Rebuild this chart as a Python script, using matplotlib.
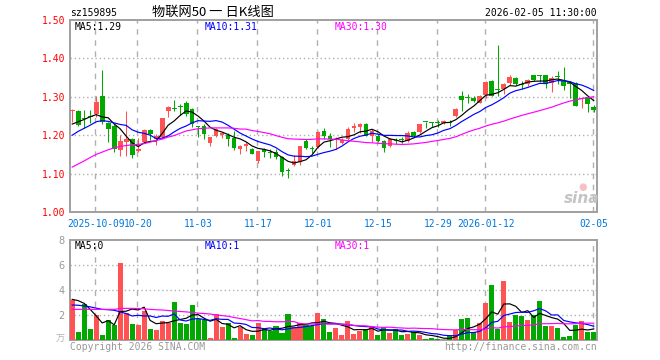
import numpy as np
import pandas as pd
import matplotlib
matplotlib.use("Agg")
from matplotlib import pyplot as plt

# daily K-line, 88 trading days
opens = [1.263, 1.264, 1.245, 1.250, 1.254, 1.302, 1.232, 1.223, 1.161, 1.182,
         1.191, 1.159, 1.183, 1.214, 1.190, 1.196, 1.262, 1.270, 1.276, 1.285,
         1.267, 1.224, 1.225, 1.180, 1.197, 1.200, 1.201, 1.193, 1.163, 1.173,
         1.163, 1.132, 1.163, 1.155, 1.156, 1.143, 1.108, 1.123, 1.129, 1.184,
         1.167, 1.170, 1.210, 1.199, 1.188, 1.180, 1.190, 1.219, 1.222, 1.230,
         1.197, 1.199, 1.186, 1.173, 1.186, 1.189, 1.184, 1.209, 1.208, 1.235,
         1.234, 1.233, 1.232, 1.235, 1.251, 1.303, 1.299, 1.298, 1.285, 1.304,
         1.342, 1.320, 1.320, 1.336, 1.350, 1.331, 1.333, 1.357, 1.356, 1.357,
         1.337, 1.353, 1.341, 1.338, 1.336, 1.293, 1.300, 1.273]
closes = [1.265, 1.226, 1.243, 1.248, 1.286, 1.235, 1.215, 1.163, 1.184, 1.191,
          1.148, 1.165, 1.213, 1.202, 1.197, 1.244, 1.274, 1.268, 1.274, 1.255,
          1.230, 1.222, 1.202, 1.195, 1.216, 1.206, 1.190, 1.167, 1.173, 1.178,
          1.152, 1.158, 1.155, 1.153, 1.143, 1.103, 1.106, 1.133, 1.171, 1.167,
          1.165, 1.208, 1.199, 1.189, 1.190, 1.188, 1.215, 1.223, 1.228, 1.199,
          1.212, 1.184, 1.167, 1.190, 1.185, 1.187, 1.206, 1.197, 1.228, 1.234,
          1.233, 1.231, 1.236, 1.233, 1.269, 1.291, 1.297, 1.290, 1.303, 1.339,
          1.303, 1.318, 1.333, 1.352, 1.333, 1.330, 1.343, 1.344, 1.355, 1.333,
          1.348, 1.351, 1.327, 1.333, 1.276, 1.296, 1.280, 1.266]
highs = [1.268, 1.266, 1.266, 1.266, 1.302, 1.371, 1.235, 1.228, 1.200, 1.263,
         1.193, 1.193, 1.215, 1.215, 1.202, 1.246, 1.276, 1.292, 1.280, 1.288,
         1.272, 1.225, 1.228, 1.196, 1.218, 1.209, 1.205, 1.210, 1.175, 1.183,
         1.166, 1.160, 1.167, 1.163, 1.165, 1.145, 1.114, 1.148, 1.172, 1.189,
         1.173, 1.210, 1.218, 1.206, 1.196, 1.193, 1.222, 1.232, 1.232, 1.232,
         1.215, 1.202, 1.188, 1.193, 1.193, 1.196, 1.210, 1.210, 1.229, 1.235,
         1.234, 1.240, 1.239, 1.240, 1.271, 1.315, 1.307, 1.301, 1.305, 1.342,
         1.344, 1.435, 1.335, 1.357, 1.352, 1.342, 1.346, 1.358, 1.356, 1.358,
         1.355, 1.368, 1.378, 1.340, 1.338, 1.300, 1.302, 1.278]
lows = [1.235, 1.223, 1.219, 1.232, 1.248, 1.228, 1.182, 1.155, 1.145, 1.145,
        1.140, 1.155, 1.180, 1.188, 1.175, 1.190, 1.247, 1.262, 1.253, 1.250,
        1.222, 1.195, 1.190, 1.172, 1.195, 1.193, 1.171, 1.162, 1.150, 1.160,
        1.150, 1.128, 1.142, 1.141, 1.137, 1.093, 1.088, 1.120, 1.123, 1.164,
        1.154, 1.167, 1.190, 1.170, 1.163, 1.176, 1.187, 1.208, 1.206, 1.197,
        1.182, 1.183, 1.156, 1.170, 1.178, 1.180, 1.182, 1.196, 1.206, 1.219,
        1.222, 1.222, 1.230, 1.223, 1.248, 1.263, 1.284, 1.287, 1.283, 1.298,
        1.301, 1.303, 1.307, 1.330, 1.330, 1.320, 1.329, 1.342, 1.339, 1.324,
        1.313, 1.333, 1.319, 1.297, 1.275, 1.271, 1.260, 1.260]
# volume, unit 万
volumes = [3.20, 0.67, 2.88, 0.88, 2.00, 0.40, 1.60, 1.20, 6.19, 2.13,
           1.28, 1.20, 2.35, 0.88, 0.80, 1.55, 1.39, 3.07, 1.39, 1.28,
           2.80, 1.65, 1.60, 0.19, 2.08, 1.07, 1.33, 0.19, 1.07, 0.48,
           0.40, 1.39, 0.85, 0.75, 1.12, 0.59, 2.08, 1.07, 1.33, 1.20,
           1.15, 2.19, 1.65, 0.67, 0.99, 0.40, 1.55, 0.48, 0.75, 0.88,
           1.01, 0.40, 1.04, 0.59, 0.88, 0.40, 0.50, 0.67, 0.40, 0.11,
           0.13, 0.05, 0.03, 0.32, 0.80, 1.68, 1.79, 0.67, 1.39, 2.99,
           4.40, 0.88, 4.72, 1.47, 2.00, 1.95, 1.60, 2.00, 3.12, 1.12,
           1.12, 0.99, 0.27, 0.35, 1.20, 1.52, 0.67, 0.67]

# moving averages at the left edge depend on days before the window ->
ma5_head = [1.229, 1.235, 1.241, 1.248]
ma10_head = [1.200, 1.210, 1.218, 1.226, 1.235, 1.238, 1.236, 1.232, 1.228]
ma30_head = [1.117, 1.125, 1.133, 1.142, 1.150, 1.156, 1.162, 1.167, 1.171, 1.173,
             1.175, 1.176, 1.178, 1.182, 1.186, 1.190, 1.195, 1.199, 1.205, 1.211,
             1.214, 1.217, 1.218, 1.219, 1.219, 1.219, 1.219, 1.218, 1.216]
vma5_head = [3.25, 3.15, 2.93, 2.45]
vma10_head = [2.80, 2.78, 2.72, 2.65, 2.55, 2.45, 2.42, 2.38, 2.25]
vma30_head = [2.45, 2.45, 2.45, 2.45, 2.45, 2.45, 2.45, 2.45, 2.52, 2.53,
              2.53, 2.52, 2.50, 2.45, 2.42, 2.40, 2.36, 2.32, 2.28, 2.25,
              2.20, 2.15, 2.12, 2.08, 2.00, 1.95, 1.90, 1.80, 1.72]

tick_idx = [4, 11, 21, 31, 41, 51, 61, 69, 87]
tick_labels = ["2025-10-09", "10-20", "11-03", "11-17", "12-01", "12-15",
               "12-29", "2026-01-12", "02-05"]

df = pd.DataFrame(dict(open=opens, close=closes, high=highs, low=lows, vol=volumes))


def moving_avg(s, n, head):
    ma = s.rolling(n).mean().to_numpy()
    ma[:len(head)] = head
    return ma


RED = "#ff5252"
GREEN = "#00a800"
FRAME = "#a0a0a0"
GRID = "#b0b0b0"
MONO = "DejaVu Sans Mono"
W, H = 660, 360

fig = plt.figure(figsize=(6.6, 3.6), dpi=100)
ax = fig.add_axes([70 / W, 1 - 212 / H, 527 / W, 192 / H])
axv = fig.add_axes([70 / W, 1 - 340 / H, 527 / W, 100 / H])

x = np.arange(len(df))
up = df["close"] >= df["open"]
colors = np.where(up, RED, GREEN)

# candles
ax.vlines(x, df["low"], df["high"], colors=colors, lw=0.75, zorder=3)
body_lo = np.minimum(df["open"], df["close"])
body_h = np.maximum((df["close"] - df["open"]).abs(), 0.0022)
ax.bar(x, body_h, bottom=body_lo, width=0.8, color=colors, lw=0, zorder=4)

ax.plot(x, moving_avg(df["close"], 5, ma5_head), color="black", lw=0.85, zorder=5)
ax.plot(x, moving_avg(df["close"], 10, ma10_head), color="#0000ff", lw=0.85, zorder=5)
ax.plot(x, moving_avg(df["close"], 30, ma30_head), color="#ff00ff", lw=0.85, zorder=5)

# volume
axv.bar(x, df["vol"], width=0.84, color=colors, lw=0, zorder=3)
axv.plot(x, moving_avg(df["vol"], 5, vma5_head), color="black", lw=0.85, zorder=5)
axv.plot(x, moving_avg(df["vol"], 10, vma10_head), color="#0000ff", lw=0.85, zorder=5)
axv.plot(x, moving_avg(df["vol"], 30, vma30_head), color="#ff00ff", lw=0.85, zorder=5)

for a in (ax, axv):
    a.set_xlim(-0.37, 87.55)
    for sp in a.spines.values():
        sp.set_color(FRAME)
        sp.set_linewidth(1.4)
    a.tick_params(length=0)
    for t in tick_idx:
        a.axvline(t - 0.17, color=GRID, lw=1, ls=(0, (4, 4)), zorder=1)

ax.set_ylim(1.0, 1.5)
ax.set_yticks([1.0, 1.1, 1.2, 1.3, 1.4, 1.5])
ax.set_yticklabels(["%.2f" % v for v in [1.0, 1.1, 1.2, 1.3, 1.4, 1.5]],
                   color="#ff0000", fontfamily=MONO, fontsize=7)
ax.tick_params(axis="y", pad=3)
for lv in [1.1, 1.2, 1.3, 1.4]:
    ax.axhline(lv, color=GRID, lw=1, ls=(0, (1, 2)), zorder=1)
ax.set_xticks(tick_idx)
ax.set_xticklabels(tick_labels, color="#0077dd", fontfamily=MONO, fontsize=6.9)
ax.tick_params(axis="x", pad=5)

axv.set_ylim(0, 8)
axv.set_yticks([2, 4, 6, 8])
axv.set_yticklabels(["2", "4", "6", "8"], color="#999999", fontsize=7)
axv.tick_params(axis="y", pad=4)
axv.set_xticks([])
for lv in [2, 4, 6]:
    axv.axhline(lv, color=GRID, lw=1, ls=(0, (1, 2)), zorder=1)


def txt(px, py, s, **kw):
    kw.setdefault("fontfamily", MONO)
    kw.setdefault("fontsize", 7)
    kw.setdefault("va", "center")
    fig.text(px / W, 1 - py / H, s, **kw)


txt(70, 13, "sz159895")
txt(213, 12, "物联网50 一 日K线图", fontfamily=["Noto Sans CJK SC", "DejaVu Sans"],
    fontsize=9.5, ha="center")
txt(597, 13, "2026-02-05 11:30:00", ha="right")
txt(75, 27, "MA5:1.29", color="black")
txt(205, 27, "MA10:1.31", color="#0000ff")
txt(335, 27, "MA30:1.30", color="#ff00ff")
txt(75, 246, "MA5:0", color="black")
txt(205, 246, "MA10:1", color="#0000ff")
txt(335, 246, "MA30:1", color="#ff00ff")
txt(65, 339, "万", fontfamily=["Noto Sans CJK SC"], fontsize=6.5, color="#b0b0b0", ha="right")
txt(70, 347, "Copyright 2026 SINA.COM", color="#999999")
txt(597, 347, "http://finance.sina.com.cn", color="#999999", ha="right")
# sina watermark
txt(582, 198, "sina", fontfamily="DejaVu Sans", fontsize=11, fontweight="bold",
    fontstyle="italic", color="#c4c4c4", ha="center")
txt(583, 187, "●", fontfamily="DejaVu Sans", fontsize=7, color="#f8c0c0", ha="center")

fig.savefig("out.png", dpi=100)
